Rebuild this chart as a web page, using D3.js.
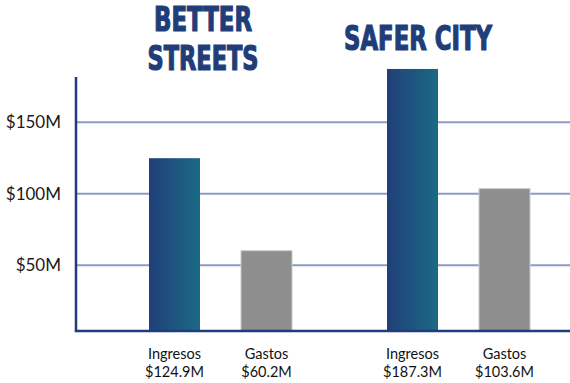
<!DOCTYPE html>
<html>
<head>
<meta charset="utf-8">
<script src="https://cdn.jsdelivr.net/npm/d3@7"></script>
<style>
  body { margin: 0; background: #fff; }
  svg { display: block; }
</style>
</head>
<body>
<div id="chart"></div>
<script>
// data
var groups = ['BETTER STREETS', 'SAFER CITY'];
var titleLines = [['BETTER', 'STREETS'], ['SAFER CITY']];
var series = ['Ingresos', 'Gastos'];
var ingresos = [124.9, 187.3];
var gastos = [60.2, 103.6];
var valueLabels = [['$124.9M', '$60.2M'], ['$187.3M', '$103.6M']];
var yTicks = [50, 100, 150];

var width = 570, height = 383;
var axisX = 76, baseY = 331;

var svg = d3.select('#chart').append('svg')
  .attr('width', width)
  .attr('height', height);

var defs = svg.append('defs');
var grad = defs.append('linearGradient')
  .attr('id', 'blueGrad')
  .attr('x1', '0%').attr('x2', '100%')
  .attr('y1', '0%').attr('y2', '0%');
grad.append('stop').attr('offset', '0%').attr('stop-color', '#213f79');
grad.append('stop').attr('offset', '100%').attr('stop-color', '#1b6a85');

// scales (zero sits a little under the drawn baseline, as in the picture)
var y = d3.scaleLinear().domain([0, 150]).range([336.8, 122.3]);

// the two groups are not evenly spaced in the picture
var groupStart = d3.scaleOrdinal().domain(groups).range([149, 387]);
var seriesOffset = d3.scaleOrdinal().domain(series).range([0, 92]);
var bw = 51;

// grid
svg.append('g').selectAll('line')
  .data(yTicks)
  .enter().append('line')
  .attr('x1', axisX).attr('x2', width)
  .attr('y1', function (d) { return y(d); })
  .attr('y2', function (d) { return y(d); })
  .attr('stroke', '#8b9cc4')
  .attr('stroke-width', 2);

svg.append('g').selectAll('text')
  .data(yTicks)
  .enter().append('text')
  .attr('x', 61)
  .attr('y', function (d) { return y(d) + 6; })
  .attr('text-anchor', 'end')
  .attr('font-family', 'Lato, sans-serif')
  .attr('font-size', 17)
  .attr('fill', '#1a1a1a')
  .text(function (d) { return '$' + d + 'M'; });

// bars
var rows = [];
groups.forEach(function (g, i) {
  rows.push({ group: g, series: 'Ingresos', value: ingresos[i], label: valueLabels[i][0] });
  rows.push({ group: g, series: 'Gastos', value: gastos[i], label: valueLabels[i][1] });
});

svg.append('g').selectAll('rect')
  .data(rows)
  .enter().append('rect')
  .attr('x', function (d) { return groupStart(d.group) + seriesOffset(d.series); })
  .attr('y', function (d) { return y(d.value); })
  .attr('width', bw)
  .attr('height', function (d) { return baseY - y(d.value); })
  .attr('fill', function (d) { return d.series === 'Ingresos' ? 'url(#blueGrad)' : '#8e8e8e'; })
  .attr('stroke', function (d) { return d.series === 'Ingresos' ? 'none' : '#c9c9c9'; })
  .attr('stroke-width', 1);

// axes
svg.append('line')
  .attr('x1', axisX).attr('x2', axisX)
  .attr('y1', 77).attr('y2', baseY)
  .attr('stroke', '#1f3c7e').attr('stroke-width', 2.5);
svg.append('line')
  .attr('x1', axisX - 1.25).attr('x2', width)
  .attr('y1', baseY).attr('y2', baseY)
  .attr('stroke', '#1f3c7e').attr('stroke-width', 2.5);

// category labels
var lab = svg.append('g').selectAll('text')
  .data(rows)
  .enter().append('text')
  .attr('text-anchor', 'middle')
  .attr('font-family', 'Lato, sans-serif')
  .attr('font-size', 14.5)
  .attr('fill', '#111');
lab.append('tspan')
  .attr('x', function (d) { return groupStart(d.group) + seriesOffset(d.series) + bw / 2; })
  .attr('y', 359)
  .text(function (d) { return d.series; });
lab.append('tspan')
  .attr('x', function (d) { return groupStart(d.group) + seriesOffset(d.series) + bw / 2; })
  .attr('y', 377)
  .text(function (d) { return d.label; });

// titles
var titleCx = [203, 418];
var titleBase = [31, 50];
var titleWidths = [[98, 111], [148]];
titleLines.forEach(function (lines, i) {
  lines.forEach(function (t, j) {
    svg.append('text')
      .attr('x', titleCx[i])
      .attr('y', titleBase[i] + j * 39)
      .attr('text-anchor', 'middle')
      .attr('font-family', '"Liberation Sans Narrow", "DejaVu Sans Condensed", sans-serif')
      .attr('font-weight', 'bold')
      .attr('font-size', 33)
      .attr('fill', '#1f3e79')
      .attr('stroke', '#1f3e79')
      .attr('stroke-width', 1.2)
      .attr('textLength', titleWidths[i][j])
      .attr('lengthAdjust', 'spacingAndGlyphs')
      .text(t);
  });
});
</script>
</body>
</html>
